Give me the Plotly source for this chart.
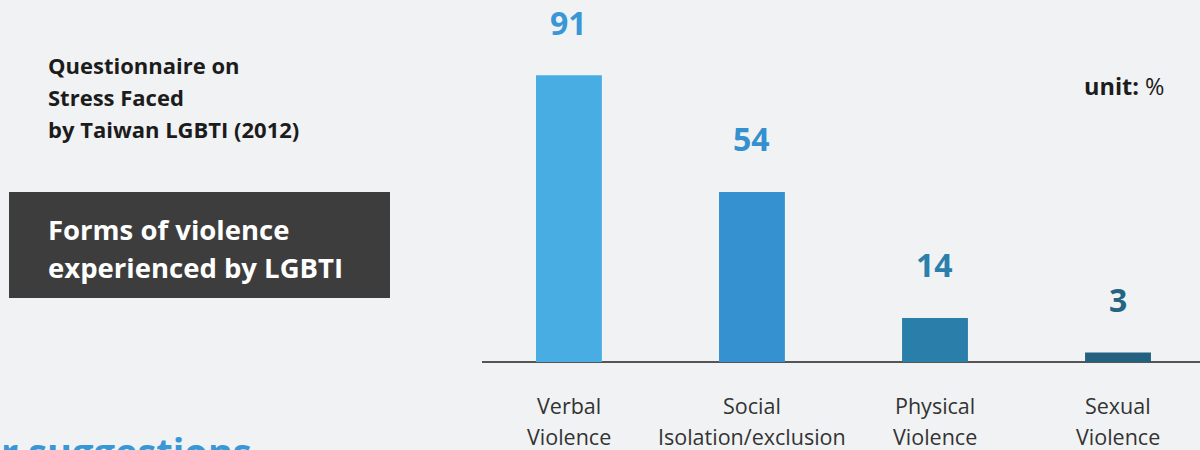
import plotly.graph_objects as go

categories = ["Verbal<br>Violence", "Social<br>Isolation/exclusion", "Physical<br>Violence", "Sexual<br>Violence"]
values = [91, 54, 14, 3]
bar_colors = ["#48ade2", "#3591d0", "#2a7faa", "#236180"]
label_colors = ["#3a97d6", "#3590d0", "#2a7fab", "#246482"]

title_lines = ["Questionnaire on", "Stress Faced", "by Taiwan LGBTI (2012)"]
box_lines = ["Forms of violence", "experienced by LGBTI"]

W, H = 1200, 450
BG = "#f1f2f4"
FONT = "Open Sans"

xs = list(range(len(categories)))

fig = go.Figure()
fig.add_trace(go.Bar(
    x=xs, y=values, marker=dict(color=bar_colors, line=dict(width=0)),
    width=0.36, hoverinfo="skip",
))

ann = []
for i, v in enumerate(values):
    ann.append(dict(x=i, y=v, xref="x", yref="y", text=f"<b>{v}</b>", showarrow=False,
                    yanchor="middle", yshift=53,
                    font=dict(family=FONT, size=32, color=label_colors[i])))

for i, c in enumerate(categories):
    for k, line in enumerate(c.split("<br>")):
        ann.append(dict(x=i, y=1 - (405 + 31 * k) / H, xref="x", yref="paper",
                        text=line, showarrow=False, xanchor="center", yanchor="middle",
                        font=dict(family=FONT, size=21.5, color="#333333")))

for k, t in enumerate(title_lines):
    ann.append(dict(x=46 / W, y=1 - (65 + 32 * k) / H, xref="paper", yref="paper",
                    text=f"<b>{t}</b>", showarrow=False, xanchor="left", yanchor="middle",
                    font=dict(family=FONT, size=22, color="#1c1c1c")))

for k, t in enumerate(box_lines):
    ann.append(dict(x=46 / W, y=1 - (229.5 + 38 * k) / H, xref="paper", yref="paper",
                    text=f"<b>{t}</b>", showarrow=False, xanchor="left", yanchor="middle",
                    font=dict(family=FONT, size=27.5, color="#ffffff")))

ann.append(dict(x=1167 / W, y=1 - 86 / H, xref="paper", yref="paper",
                text="<b>unit:</b> %", showarrow=False, xanchor="right", yanchor="middle",
                font=dict(family=FONT, size=23.5, color="#1c1c1c")))

ann.append(dict(x=254 / W, y=1 - 451 / H, xref="paper", yref="paper",
                text="<b>r suggestions</b>", showarrow=False, xanchor="right", yanchor="middle",
                font=dict(family=FONT, size=38, color="#3a97d6")))

fig.update_layout(
    width=W, height=H,
    paper_bgcolor=BG, plot_bgcolor=BG,
    margin=dict(l=0, r=0, t=0, b=0),
    showlegend=False,
    annotations=ann,
    shapes=[dict(type="rect", xref="paper", yref="paper",
                 x0=9 / W, x1=390 / W, y0=1 - 298 / H, y1=1 - 192 / H,
                 fillcolor="#3d3d3d", line=dict(width=0), layer="below")],
    xaxis=dict(domain=[482 / W, 1], range=[-0.475, 3.448],
               tickvals=xs, showticklabels=False, showgrid=False, zeroline=False,
               showline=False, ticks=""),
    yaxis=dict(domain=[88 / H, 1], range=[0, 362 / 3.15], showgrid=False,
               zeroline=True, zerolinecolor="#555555", zerolinewidth=2,
               showticklabels=False, showline=False, ticks=""),
)

fig.write_html("out.html", config={"displayModeBar": False},
               post_script="document.body.style.margin='0';document.body.style.background='" + BG + "';")
